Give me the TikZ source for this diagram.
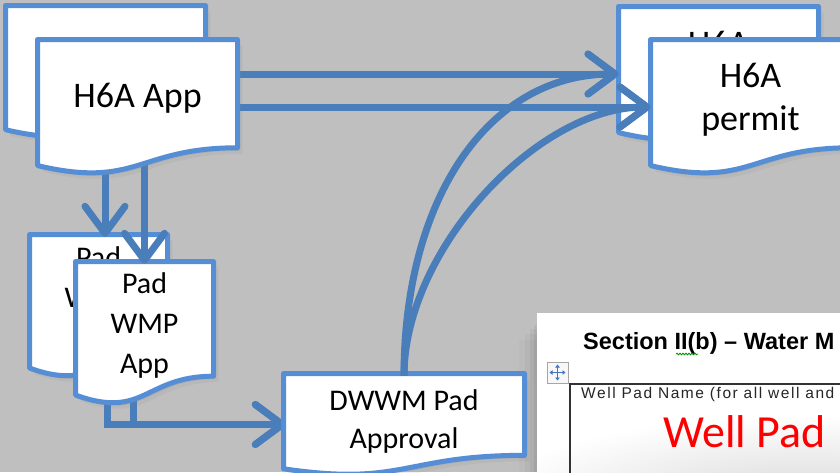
\documentclass[tikz,border=0pt]{standalone}
\usepackage{fontspec}
\setmainfont{Carlito}
\newfontfamily\arialfont{Liberation Sans}
\newfontfamily\arialsp[LetterSpace=10]{Liberation Sans}
\usetikzlibrary{arrows.meta,shadows,decorations.pathmorphing,calc}
\definecolor{bgray}{HTML}{BFBFBF}
\definecolor{docblue}{HTML}{558ED5}
\definecolor{arrblue}{HTML}{4A7EBB}
\definecolor{iconblue}{HTML}{4472C4}
\newdimen\docXa \newdimen\docXb \newdimen\docXc \newdimen\docYt
\newdimen\docH \newdimen\docA \newdimen\docB \newdimen\docC
\makeatletter
\pgfdeclareshape{docu}{%
  \inheritsavedanchors[from=rectangle]%
  \inheritanchorborder[from=rectangle]%
  \inheritanchor[from=rectangle]{center}%
  \inheritanchor[from=rectangle]{north}%
  \inheritanchor[from=rectangle]{south}%
  \inheritanchor[from=rectangle]{east}%
  \inheritanchor[from=rectangle]{west}%
  \inheritanchor[from=rectangle]{north east}%
  \inheritanchor[from=rectangle]{north west}%
  \inheritanchor[from=rectangle]{south east}%
  \inheritanchor[from=rectangle]{south west}%
  \inheritanchor[from=rectangle]{text}%
  \inheritanchor[from=rectangle]{mid}%
  \inheritanchor[from=rectangle]{base}%
  \backgroundpath{%
    \southwest \docXa=\pgf@x \docH=\pgf@y
    \northeast \docXb=\pgf@x \docYt=\pgf@y
    \advance\docH by -\docYt \docH=-\docH
    \docXc=.5\docXa \advance\docXc by .5\docXb
    \docA=\docYt \advance\docA by -0.802\docH
    \docB=\docYt \advance\docB by -1.108\docH
    \docC=\docYt \advance\docC by -0.934\docH
    \pgfpathmoveto{\pgfqpoint{\docXa}{\docYt}}%
    \pgfpathlineto{\pgfqpoint{\docXb}{\docYt}}%
    \pgfpathlineto{\pgfqpoint{\docXb}{\docA}}%
    \pgfpathcurveto{\pgfqpoint{\docXc}{\docA}}{\pgfqpoint{\docXc}{\docB}}{\pgfqpoint{\docXa}{\docC}}%
    \pgfpathclose
  }%
}
\makeatother
\begin{document}
\begin{tikzpicture}[x=1pt,y=-1pt,
  docnode/.style={docu, draw=docblue, line width=5pt, fill=white, line join=round,
    drop shadow={shadow xshift=2pt,shadow yshift=-3pt,opacity=.18},
    drop shadow={shadow xshift=5pt,shadow yshift=-6pt,opacity=.10}},
  doctext/.style={align=center, inner sep=0pt, text=black},
  big/.style={font=\fontsize{36}{43}\selectfont},
  mid/.style={font=\fontsize{30}{40}\selectfont},
  arr/.style={draw=arrblue, line width=7pt, -{Straight Barb[length=27pt,width=40pt,round]}},
  ]
\useasboundingbox (0,0) rectangle (840,472);
\clip (0,0) rectangle (840,472);
\fill[bgray] (0,0) rectangle (840,472);

% --- document page (bottom right) ---
\foreach \d/\o in {3/0.05,7/0.04,12/0.03,18/0.02}
  \fill[black,opacity=\o] (537-\d,322+\d) rectangle (840,472);
\fill[white] (537,313) rectangle (845,480);
\begin{scope}
  \clip (537,313) rectangle (845,480);
  \shade[inner color=black!16, outer color=white] (810,505) ellipse [x radius=330, y radius=90];
\end{scope}
\node[anchor=base west, inner sep=0pt, font=\arialfont\bfseries\fontsize{23.5}{28}\selectfont]
  (sect) at (583,349) {Section II(b) – Water M};
\draw[green!55!black, line width=0.8pt, decorate, decoration={snake, amplitude=0.8pt, segment length=3pt}]
  (676,354) -- (698,354);
\node[draw=black!35, fill=black!3, minimum size=21pt, inner sep=0pt, line width=0.8pt] (mv) at (557.5,372.5) {};
\draw[iconblue, line width=1.2pt, {Triangle[length=3pt,width=4.5pt]}-{Triangle[length=3pt,width=4.5pt]}]
  ([xshift=-8pt]mv.center) -- ([xshift=8pt]mv.center);
\draw[iconblue, line width=1.2pt, {Triangle[length=3pt,width=4.5pt]}-{Triangle[length=3pt,width=4.5pt]}]
  ([yshift=-8pt]mv.center) -- ([yshift=8pt]mv.center);
\draw[black!80, line width=1.5pt] (570,480) -- (570,384) -- (845,384);
\node[anchor=base west, inner sep=0pt, font=\arialsp\fontsize{15.5}{18}\selectfont, text=black!85]
  (wpn) at (581,398) {Well Pad Name (for all well and};
\node[anchor=base west, inner sep=0pt, text=red, font=\fontsize{46}{55}\selectfont]
  (wp) at (663,447) {Well Pad};

% --- H6A permit documents ---
\node[docnode, minimum width=195pt, minimum height=130pt] (permB) at (718.5,74) {};
\node[doctext, big] (permBt) at ([yshift=6pt]permB.center) {H6A\\permit};
\node[docnode, minimum width=195pt, minimum height=130pt] (permF) at (750.5,107) {};
\node[doctext, big] (permFt) at ([yshift=7pt]permF.center) {H6A\\permit};

% --- connectors from pad docs to DWWM (start hidden under docs) ---
\node[docu, minimum width=236pt, minimum height=97pt, draw=none] (dwwm) at (404,424.5) {};
\node[docu, minimum width=133pt, minimum height=138pt, draw=none] (padB) at (98.5,306) {};
\node[docu, minimum width=133pt, minimum height=138pt, draw=none] (padF) at (144.5,333) {};
\draw[arr] ([xshift=8.5pt]padB.center) |- (dwwm.west);
\draw[arr] ([xshift=-11.5pt]padF.center) |- (dwwm.west);

% --- pad WMP documents and DWWM ---
\node[docnode, minimum width=133pt, minimum height=138pt] (padBd) at (padB.center) {};
\node[doctext, mid] (padBt) at ([yshift=7pt]padB.center) {Pad\\WMP\\App};
\node[docnode, minimum width=133pt, minimum height=138pt] (padFd) at (padF.center) {};
\node[doctext, mid] (padFt) at ([yshift=8pt]padF.center) {Pad\\WMP\\App};
\node[docnode, minimum width=236pt, minimum height=97pt] (dwwmd) at (dwwm.center) {};
\node[doctext, font=\fontsize{30}{38}\selectfont] (dwwmt) at ([yshift=3.5pt]dwwm.center) {DWWM Pad\\Approval};

% --- H6A App placeholders for connector ends ---
\node[docu, minimum width=195pt, minimum height=130pt, draw=none] (appF) at (137.5,107) {};
\coordinate (padBin) at ([xshift=6.5pt]padB.north);

% --- arrows ---
\draw[arr] (appF.east |- permB.west) -- (permB.west);
\draw[arr] (appF.east) -- (permF.west);
\draw[arr] (dwwm.north) .. controls +(0,-176) and +(-131,0) .. (permB.west);
\draw[arr] (dwwm.north) .. controls +(0,-126) and +(-113,0) .. (permF.west);
\draw[arr] (appF.center -| padBin) -- (padBin);
\draw[arr] (appF.center -| padF.north) -- (padF.north);

% --- H6A App documents ---
\node[docnode, minimum width=195pt, minimum height=128pt] (appB) at (105.5,72) {};
\node[docnode, minimum width=195pt, minimum height=130pt] (appFd) at (appF.center) {};
\node[doctext, big] (appFt) at ([yshift=8.5pt]appF.center) {H6A App};
\end{tikzpicture}
\end{document}
